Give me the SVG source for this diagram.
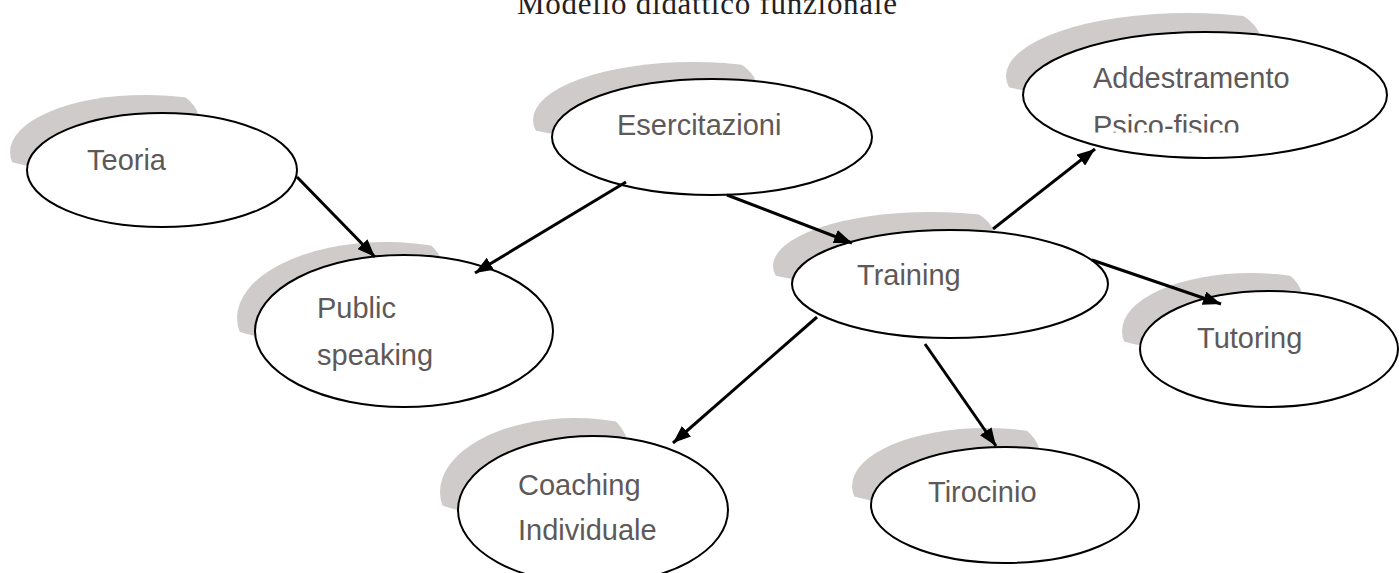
<svg xmlns="http://www.w3.org/2000/svg" width="1399" height="573" viewBox="0 0 1399 573">
<style>
.node ellipse.main{fill:#ffffff;stroke:#000000;stroke-width:2}
.node ellipse.shadow{fill:#cfcbcb;clip-path:url(#shadowClip)}
.lbl{font-family:"Liberation Sans",Arial,sans-serif;font-size:29px;fill:#5e5959}
.title{font-family:"Liberation Serif","Times New Roman",serif;font-size:31px;fill:#222222}
.conn line{stroke:#000000;stroke-width:3;marker-end:url(#arrow)}
</style>
<defs>
<clipPath id="shadowClip" clipPathUnits="objectBoundingBox">
<ellipse cx="0.25" cy="0.22" rx="0.45" ry="0.44"/>
</clipPath>
<clipPath id="psicoClip">
<rect x="1080" y="100" width="260" height="32.5"/>
</clipPath>
<marker id="arrow" viewBox="0 0 18 14" refX="18" refY="7" markerWidth="18" markerHeight="14" markerUnits="userSpaceOnUse" orient="auto">
<path d="M0,0 L18,7 L0,14 z" fill="#000000"/>
</marker>
</defs>
<rect width="1399" height="573" fill="#ffffff"/>
<text class="title" x="517" y="14" textLength="380" lengthAdjust="spacing">Modello didattico funzionale</text>
<g id="teoria" class="node">
<ellipse class="shadow" cx="145" cy="152" rx="135" ry="57"/>
<ellipse class="main" cx="162" cy="170" rx="135" ry="57"/>
<text class="lbl" x="87" y="170">Teoria</text>
</g>
<g id="esercitazioni" class="node">
<ellipse class="shadow" cx="693" cy="120" rx="160" ry="58"/>
<ellipse class="main" cx="712" cy="137" rx="160" ry="58"/>
<text class="lbl" x="617" y="135">Esercitazioni</text>
</g>
<g id="addestramento" class="node">
<ellipse class="shadow" cx="1188" cy="76" rx="182" ry="63"/>
<ellipse class="main" cx="1205" cy="95" rx="182" ry="63"/>
<text class="lbl" x="1093" y="88">Addestramento</text>
<text class="lbl" x="1093" y="136" clip-path="url(#psicoClip)">Psico-fisico</text>
</g>
<g id="public-speaking" class="node">
<ellipse class="shadow" cx="386" cy="318" rx="149" ry="76"/>
<ellipse class="main" cx="404" cy="331" rx="149" ry="76"/>
<text class="lbl" x="317" y="318">Public</text>
<text class="lbl" x="317" y="365">speaking</text>
</g>
<g id="training" class="node">
<ellipse class="shadow" cx="931" cy="266" rx="158" ry="54"/>
<ellipse class="main" cx="950" cy="284" rx="158" ry="54"/>
<text class="lbl" x="857" y="285">Training</text>
</g>
<g id="tutoring" class="node">
<ellipse class="shadow" cx="1251" cy="331" rx="129" ry="58"/>
<ellipse class="main" cx="1269" cy="349" rx="129" ry="58"/>
<text class="lbl" x="1197" y="348">Tutoring</text>
</g>
<g id="coaching-individuale" class="node">
<ellipse class="shadow" cx="575" cy="492" rx="135" ry="74"/>
<ellipse class="main" cx="593" cy="510" rx="135" ry="74"/>
<text class="lbl" x="518" y="495">Coaching</text>
<text class="lbl" x="518" y="540">Individuale</text>
</g>
<g id="tirocinio" class="node">
<ellipse class="shadow" cx="986" cy="486" rx="134" ry="58"/>
<ellipse class="main" cx="1005" cy="505" rx="134" ry="58"/>
<text class="lbl" x="928" y="502">Tirocinio</text>
</g>
<g id="connectors" class="conn">
<line x1="297" y1="177" x2="375" y2="257"/>
<line x1="626" y1="182" x2="475" y2="273"/>
<line x1="727" y1="195" x2="852" y2="243"/>
<line x1="993" y1="229" x2="1095" y2="149"/>
<line x1="1092" y1="260" x2="1221" y2="304"/>
<line x1="817" y1="317" x2="673" y2="443"/>
<line x1="925" y1="344" x2="996" y2="446"/>
</g>
</svg>
